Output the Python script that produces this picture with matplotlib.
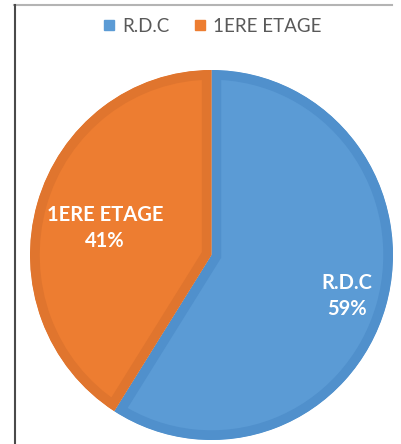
import matplotlib.pyplot as plt
from matplotlib.lines import Line2D
import numpy as np

labels = ["R.D.C", "1ERE ETAGE"]
shares = [59, 41]
colors = ["#5B9BD5", "#ED7D31"]
edge_colors = ["#5090CC", "#E0752E"]

W, H = 401, 444
fig = plt.figure(figsize=(W / 100, H / 100), dpi=100)

# pie box in pixels (runs slightly past the bottom of the image)
x0, x1 = 30, 393
y0, y1 = 70, 440
ax = fig.add_axes([x0 / W, (H - y1) / H, (x1 - x0) / W, (y1 - y0) / H])

wedges, _ = ax.pie(
    shares,
    colors=colors,
    startangle=90,
    counterclock=False,
    radius=1.0,
    wedgeprops=dict(linewidth=14, antialiased=True),
)

for w, ec in zip(wedges, edge_colors):
    w.set_edgecolor(ec)
    # keep the stroke inside each slice
    w.set_clip_path(w)
    w.set_clip_on(True)

# label placement (angle in degrees, radius as fraction of pie radius)
label_pos = [(-16.5, 0.78), (166, 0.605)]
for lab, val, (ang, rad) in zip(labels, shares, label_pos):
    t = np.deg2rad(ang)
    ax.text(
        rad * np.cos(t), rad * np.sin(t),
        f"{lab}\n{val}%",
        ha="center", va="center",
        color="white", fontsize=14.5, fontweight="bold",
        family=["Lato", "DejaVu Sans"],
        linespacing=1.4,
    )

ax.set_xlim(-1, 1)
ax.set_ylim(-1, 1)
ax.set_aspect("auto")
ax.axis("off")

handles = [
    Line2D([], [], marker="s", linestyle="none", markersize=6.8,
           markerfacecolor=c, markeredgecolor=c)
    for c in colors
]
fig.legend(
    handles, labels,
    loc="center", bbox_to_anchor=(212 / W, 1 - 26 / H),
    ncol=2, frameon=False,
    handlelength=0.7, handletextpad=0.35, columnspacing=1.3,
    prop=dict(family=["Lato", "DejaVu Sans"], size=13.5),
    labelcolor="#595959",
)

# frame lines of the original chart box
fig.add_artist(Line2D([14 / W, 392 / W], [1 - 5.5 / H, 1 - 5.5 / H],
                      color="#B4B4B4", linewidth=1.5))
fig.add_artist(Line2D([14.5 / W, 14.5 / W], [0, 1 - 5 / H],
                      color="#4A4A4A", linewidth=1.5))

fig.savefig("out.png", dpi=100)
